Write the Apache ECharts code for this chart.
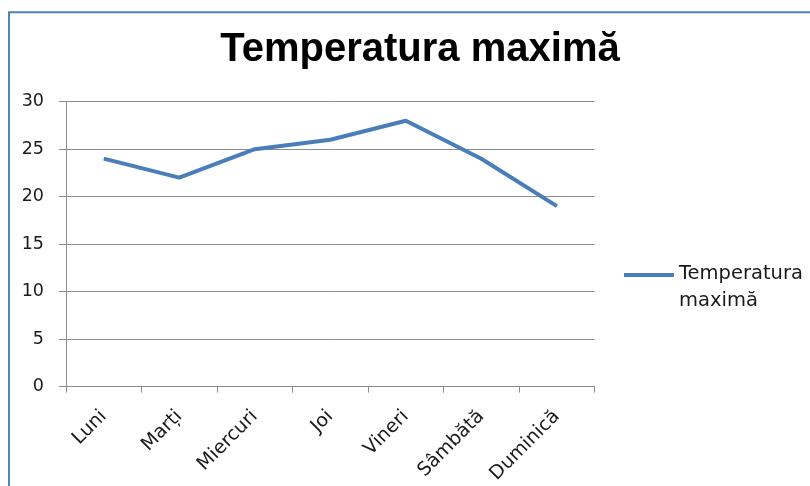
<!DOCTYPE html>
<html>
<head>
<meta charset="utf-8">
<style>
html,body{margin:0;padding:0;background:#fff;}
#chart{width:810px;height:486px;}
</style>
<script src="https://cdn.jsdelivr.net/npm/echarts@6/dist/echarts.min.js"></script>
</head>
<body>
<div id="chart"></div>
<script>
const titleText = 'Temperatura maximă';
const seriesName = 'Temperatura maximă';
const categories = ['Luni', 'Marți', 'Miercuri', 'Joi', 'Vineri', 'Sâmbătă', 'Duminică'];
const temperatures = [24, 22, 25, 26, 28, 24, 19];
const yTicks = [0, 5, 10, 15, 20, 25, 30];

const chart = echarts.init(document.getElementById('chart'), null, {renderer: 'canvas'});
const axisGray = '#8c8c8c';
const textColor = '#1a1a1a';
const labelFont = 'DejaVu Sans';

chart.setOption({
  backgroundColor: '#ffffff',
  animation: false,
  title: {
    text: titleText,
    left: 420,
    top: 30,
    textAlign: 'center',
    padding: 0,
    textStyle: {fontFamily: 'Liberation Sans', fontWeight: 'bold', fontSize: 40, color: '#000'}
  },
  graphic: [{
    type: 'rect',
    shape: {x: 9, y: 12.3, width: 900, height: 700},
    style: {fill: 'none', stroke: '#4F81BD', lineWidth: 2},
    silent: true
  }],
  legend: {
    left: 624,
    top: 260,
    padding: 0,
    orient: 'vertical',
    itemWidth: 50,
    itemHeight: 28,
    symbolKeepAspect: false,
    icon: 'path://M0,0h50v4h-50zM0,27.9h0.1v0.1h-0.1z',
    formatter: function (name) { return name.replace(' ', '\n'); },
    textStyle: {fontFamily: labelFont, fontSize: 19.5, lineHeight: 27, color: textColor},
    data: [seriesName]
  },
  grid: {left: 66, right: 215.4, top: 101.7, bottom: 99.3, containLabel: false},
  xAxis: {
    type: 'category',
    data: categories,
    boundaryGap: true,
    axisLine: {show: true, lineStyle: {color: axisGray, width: 1}},
    axisTick: {show: true, length: 6, alignWithLabel: false, lineStyle: {color: axisGray}},
    axisLabel: {rotate: 45, margin: 27, interval: 0, fontFamily: labelFont, fontSize: 19, color: textColor},
    splitLine: {show: false}
  },
  yAxis: {
    type: 'value',
    min: yTicks[0],
    max: yTicks[yTicks.length - 1],
    interval: yTicks[1] - yTicks[0],
    axisLine: {show: true, lineStyle: {color: axisGray, width: 1}},
    axisTick: {show: true, length: 7, lineStyle: {color: axisGray}},
    axisLabel: {margin: 22, fontFamily: labelFont, fontSize: 17.5, color: textColor},
    splitLine: {show: true, lineStyle: {color: axisGray, width: 1}}
  },
  series: [{
    name: seriesName,
    type: 'line',
    data: temperatures,
    showSymbol: false,
    symbol: 'none',
    smooth: false,
    lineStyle: {color: '#4A7EBB', width: 4},
    itemStyle: {color: '#4A7EBB'}
  }]
});
</script>
</body>
</html>
